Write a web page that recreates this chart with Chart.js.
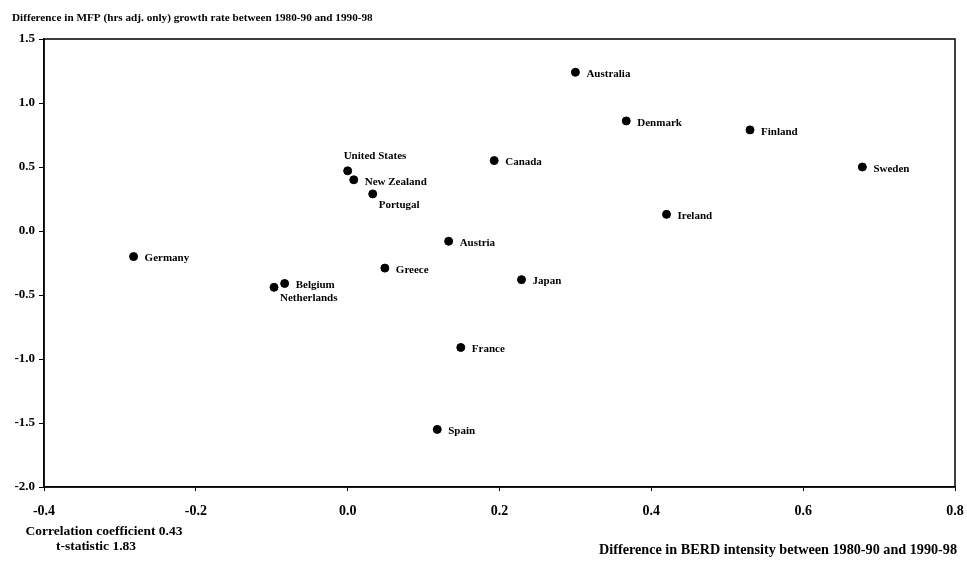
<!DOCTYPE html>
<html>
<head>
<meta charset="utf-8">
<script src="https://cdn.jsdelivr.net/npm/chart.js@4"></script>
<style>
  html, body { margin: 0; padding: 0; background: #fff; }
  #wrap { width: 967px; height: 563px; }
</style>
</head>
<body>
<div id="wrap"><canvas id="myChart" width="967" height="563"></canvas></div>
<script>
// Countries and their values
const countries = ['Australia','Denmark','Finland','Sweden','Canada','Ireland',
  'United States','New Zealand','Portugal','Austria','Germany','Greece',
  'Japan','Belgium','Netherlands','France','Spain'];
const berdDiff = [0.300, 0.367, 0.530, 0.678, 0.193, 0.420,
  0.000, 0.008, 0.033, 0.133, -0.282, 0.049,
  0.229, -0.083, -0.097, 0.149, 0.118];
const mfpDiff = [1.24, 0.86, 0.79, 0.50, 0.55, 0.13,
  0.47, 0.40, 0.29, -0.08, -0.20, -0.29,
  -0.38, -0.41, -0.44, -0.91, -1.55];
// where the name sits relative to the dot
const labelSide = ['right','right','right','right','right','right',
  'above','right','below','right','right','right',
  'right','right','below','right','right'];

const xTicks = [-0.4, -0.2, 0.0, 0.2, 0.4, 0.6, 0.8];
const yTicks = [-2.0, -1.5, -1.0, -0.5, 0.0, 0.5, 1.0, 1.5];

const yTitle = 'Difference in MFP (hrs adj. only) growth rate between 1980-90 and 1990-98';
const xTitle = 'Difference in BERD intensity between 1980-90 and 1990-98';
const notes = ['Correlation coefficient 0.43', 't-statistic 1.83'];

const serif = '"Liberation Serif", "DejaVu Serif", serif';

const points = countries.map((c, i) => ({ x: berdDiff[i], y: mfpDiff[i] }));

// Names next to the dots, box around the plot, and the free text
const extrasPlugin = {
  id: 'extras',
  afterDatasetsDraw(chart) {
    const ctx = chart.ctx;
    const area = chart.chartArea;
    ctx.save();
    ctx.strokeStyle = '#000';
    ctx.lineWidth = 1.5;
    ctx.strokeRect(area.left, area.top, area.right - area.left, area.bottom - area.top);

    ctx.fillStyle = '#000';
    ctx.font = 'bold 11px ' + serif;
    ctx.textBaseline = 'middle';
    ctx.textAlign = 'left';
    const meta = chart.getDatasetMeta(0);
    meta.data.forEach((pt, i) => {
      const side = labelSide[i];
      if (side === 'above') {
        ctx.fillText(countries[i], pt.x - 4, pt.y - 15);
      } else if (side === 'below') {
        ctx.fillText(countries[i], pt.x + 6, pt.y + 11);
      } else {
        ctx.fillText(countries[i], pt.x + 11, pt.y + 2);
      }
    });

    ctx.font = 'bold 11.2px ' + serif;
    ctx.fillText(yTitle, 12, 18);
    ctx.font = 'bold 13.5px ' + serif;
    ctx.textAlign = 'center';
    ctx.fillText(notes[0], 104, 532);
    ctx.fillText(notes[1], 96, 547);
    ctx.font = 'bold 14.2px ' + serif;
    ctx.textAlign = 'right';
    ctx.fillText(xTitle, 957, 550);
    ctx.restore();
  }
};

const chartData = {
  datasets: [{
    data: points,
    backgroundColor: '#000',
    borderColor: '#000',
    pointRadius: 4,
    pointHoverRadius: 4
  }]
};

const ctx = document.getElementById('myChart');
const myChart = new Chart(ctx, {
  type: 'scatter',
  data: chartData,
  plugins: [extrasPlugin],
  options: {
    responsive: false,
    animation: false,
    layout: { padding: { top: 39, right: 12, left: 0, bottom: 0 } },
    plugins: {
      legend: { display: false },
      tooltip: { enabled: false }
    },
    scales: {
      x: {
        type: 'linear',
        min: xTicks[0],
        max: xTicks[xTicks.length - 1],
        afterFit(scale) {
          scale.height = 76;
          scale.paddingLeft = 0;
          scale.paddingRight = 0;
        },
        afterBuildTicks(scale) { scale.ticks = xTicks.map(v => ({ value: v })); },
        grid: { display: true, drawOnChartArea: false, tickLength: 4, color: '#000' },
        border: { display: true, color: '#000', width: 1.5 },
        ticks: {
          color: '#000',
          padding: 12,
          maxRotation: 0,
          font: { family: serif, size: 14, weight: 'bold' },
          callback: v => Number(v).toFixed(1)
        }
      },
      y: {
        type: 'linear',
        min: yTicks[0],
        max: yTicks[yTicks.length - 1],
        afterFit(scale) {
          scale.width = 44;
          scale.paddingTop = 0;
          scale.paddingBottom = 0;
        },
        afterBuildTicks(scale) { scale.ticks = yTicks.map(v => ({ value: v })); },
        grid: { display: true, drawOnChartArea: false, tickLength: 5, color: '#000' },
        border: { display: true, color: '#000', width: 1.5 },
        ticks: {
          color: '#000',
          padding: 4,
          font: { family: serif, size: 13, weight: 'bold' },
          callback: v => Number(v).toFixed(1)
        }
      }
    }
  }
});
</script>
</body>
</html>
